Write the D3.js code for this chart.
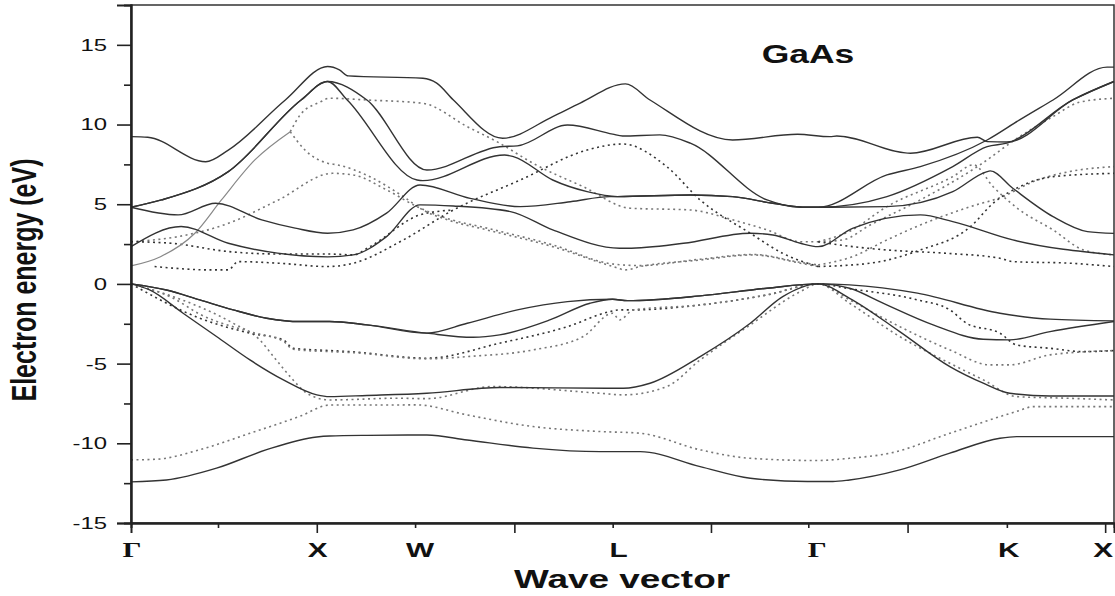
<!DOCTYPE html>
<html>
<head>
<meta charset="utf-8">
<script src="https://cdn.jsdelivr.net/npm/d3@7"></script>
<style>
  body { margin: 0; background: #fff; }
  text { font-family: "Liberation Sans", Arial, sans-serif; fill: #111; }
</style>
</head>
<body>
<div id="chart"></div>
<script>
// k = position along the path in % (0 = first Gamma, 100 = last X), E in eV

// tick marks along the path and their labels
var tickLong = [18.9, 39.0, 59.0, 79.0, 99.1];
var tickShort = [8.85, 28.9, 49.0, 68.9, 89.1];
var pointLabels = ["Γ", "X", "W", "L", "Γ", "K", "X"];
var pointLabelK = [0.1, 19.0, 29.4, 49.6, 69.8, 89.3, 98.9];
var yMajor = [-15, -10, -5, 0, 5, 10, 15];
var yMinor = [-12.5, -7.5, -2.5, 2.5, 7.5, 12.5];

// solid bands
var v1 = [[0,-12.42],[3.6,-12.3],[8.7,-11.56],[13.8,-10.4],[18.9,-9.6],[20.2,-9.54],[24,-9.5],[30.1,-9.48],[34.2,-9.79],[40.9,-10.3],[47.7,-10.52],[51.8,-10.52],[57.9,-11.46],[63,-12.19],[68.8,-12.4],[71.4,-12.4],[73.1,-12.3],[78.2,-11.67],[83.3,-10.62],[88.4,-9.68],[90.1,-9.58],[100,-9.58]];
var v2 = [[0,0],[1.9,-0.38],[5.3,-1.84],[8.7,-3.3],[12.1,-4.77],[15.5,-6.02],[18.9,-6.96],[20.2,-7.07],[24,-7.0],[30.1,-6.86],[37.5,-6.5],[48.7,-6.55],[50.1,-6.55],[52.8,-6.23],[57.9,-4.56],[63,-2.47],[66.3,-0.8],[69.9,0],[73.1,-0.9],[78.2,-2.99],[83.3,-5.19],[86.7,-6.23],[89.4,-6.86],[93.5,-7.03],[100,-7.03]];
var v3 = [[0,0],[3.6,-0.38],[7,-1.0],[10.4,-1.63],[13.8,-2.15],[17.2,-2.36],[20.2,-2.36],[24,-2.57],[30.1,-3.09],[34.8,-3.35],[37.5,-3.2],[42.6,-2.26],[46.7,-1.21],[49,-0.96],[50.5,-1.05],[57.9,-0.75],[64.7,-0.27],[69.9,0],[73.1,-0.27],[76.5,-1.21],[81.6,-2.57],[86.7,-3.47],[89.4,-3.51],[93.5,-2.99],[100,-2.36]];
var v4 = [[0,0],[3.6,-0.38],[7,-1.0],[10.4,-1.63],[13.8,-2.15],[17.2,-2.36],[20.2,-2.36],[24,-2.57],[30.1,-3.09],[34.2,-2.47],[39.3,-1.63],[44.4,-1.11],[49,-0.96],[50.5,-1.05],[57.9,-0.75],[64.7,-0.27],[69.9,0],[73.1,-0.06],[80,-0.58],[88.4,-1.84],[93.5,-2.21],[100,-2.32]];
var c1 = [[0,2.34],[5.1,3.6],[9.9,2.55],[14.9,1.93],[20,1.7],[22.6,1.82],[26,2.97],[29.4,4.96],[32.8,4.89],[38.6,4.54],[42.9,3.39],[49.7,2.24],[50.5,2.24],[56.2,2.55],[63,3.18],[65.3,3.07],[68.1,2.55],[69.9,2.34],[73.4,3.49],[80.3,4.33],[83.6,3.91],[89.7,2.76],[100,1.82]];
var c2 = [[0,4.81],[4.8,4.33],[8.6,5.06],[13.3,4.02],[16.7,3.5],[20,3.18],[22.6,3.39],[26,4.44],[29.4,6.21],[34.5,5.37],[39.6,4.85],[44.7,5.16],[48.7,5.48],[49.5,5.48],[56.9,5.58],[61.2,5.48],[65.3,5.06],[68.8,4.81],[69.9,4.81],[76.9,4.85],[83.6,5.79],[87.1,7.05],[87.4,7.09],[89.7,6.0],[93.8,4.22],[97.3,3.28],[100,3.17]];
var c3 = [[0,4.81],[3.1,5.27],[9.9,7.05],[17.3,11.54],[20,12.7],[22,11.54],[29.1,6.52],[29.7,6.48],[38,8.09],[38.9,7.99],[42.9,6.52],[46.4,5.79],[49.5,5.48],[56.9,5.58],[61.2,5.48],[65.3,5.06],[68.8,4.81],[69.9,4.81],[76.9,5.48],[83.6,7.36],[87.1,8.61],[89.1,8.83],[95.8,11.54],[100,12.7]];
var c4 = [[0,4.81],[3.1,5.27],[9.9,7.05],[17.3,11.54],[20,12.7],[24,11.54],[30.1,7.15],[37.5,8.61],[39.3,8.66],[44.4,9.97],[49,9.4],[50,9.28],[53.8,9.35],[56.9,8.83],[64.7,5.27],[68.1,4.81],[69.9,4.81],[76.9,6.84],[80.3,7.36],[87.1,9.03],[90.4,10.29],[93.8,11.54],[99.3,13.6],[100,13.6]];
var c5 = [[0,9.24],[1.7,9.2],[7.6,7.67],[9.9,8.4],[15.7,11.54],[20,13.64],[21.2,13.43],[22.1,13.05],[29.7,12.9],[31.1,12.6],[32.8,11.54],[37.8,9.14],[42.9,10.5],[45.7,11.35],[50.3,12.55],[52.8,11.54],[61.2,9.03],[67.8,9.39],[71.1,9.24],[71.8,9.28],[79.3,8.2],[86.1,9.2],[87.1,8.93],[89.1,8.9],[95.8,11.54],[100,12.7]];

// dotted bands
var d1a = [[0,1.13],[3,1.71],[6.5,3.18],[9.2,5.27],[12.6,7.78],[16.2,9.55]];
var d1b = [[16.2,9.55],[17.2,10.6],[19.2,11.4],[20.2,11.65],[24,11.54],[29.7,11.33],[34.2,9.87],[37.5,8.83],[40.9,7.57],[46,6.1],[50.8,4.75],[56.9,4.64],[61.2,4.02],[64.7,3.39],[68.1,2.65],[69.9,2.65]];
var d2 = [[16.2,9.55],[17.7,8.4],[20,7.57],[21,7.47],[24.3,6.73],[27.7,5.48],[29.7,4.64],[32.2,4.02],[36.2,3.39],[42.9,2.34],[49,1.1],[50.3,0.88],[51.8,1.09],[57.9,1.5],[63.3,1.82],[68.1,1.3],[69.9,1.09]];
var d3b = [[0,2.65],[4.8,2.97],[9.9,3.8],[15,5.27],[20.5,6.94],[22.6,6.84],[26,5.9],[29.1,4.85],[32.2,4.1],[36.2,3.5],[42.9,2.45],[49,1.25],[51.8,1.15],[57.9,1.55],[63.3,1.85],[68.1,1.35],[69.9,1.19]];
var d4 = [[0,2.65],[4.1,2.55],[9.9,2.03],[15,1.88],[20,1.88],[22.6,1.82],[24.3,2.34],[29.4,4.33],[32.8,4.64]];
var d5 = [[2.4,1.09],[8.1,0.88],[9.9,0.88],[10.9,1.4],[15,1.3],[20,1.09],[22.6,1.3],[27.7,2.76],[32.8,4.64],[39.6,6.52],[46.4,8.4],[50,8.78],[54.5,7.36],[57.9,5.27],[63,3.18],[66.3,1.92],[69.9,1.09]];
var g1 = [[69.9,2.65],[72.4,2.76],[75.2,3.7],[80.3,5.27],[86.1,7.36],[90.4,9.24],[93.8,10.5],[96.5,11.4],[100,11.65]];
var g2 = [[69.9,2.65],[73.1,3.3],[76.9,4.85],[83.6,6.73],[85.7,7.47],[87.7,6.1],[90.4,4.64],[93.8,3.39],[96.9,2.13],[100,1.82]];
var g3 = [[69.9,1.19],[73.4,1.71],[76.9,2.76],[80.3,3.7],[85.4,4.85],[88.7,5.48],[91.8,6.42],[95.5,7.05],[100,7.36]];
var g4 = [[69.9,1.09],[75.2,1.3],[80.3,2.13],[85.4,3.59],[87.7,5.06],[90.4,6.1],[93.8,6.73],[100,6.94]];
var g5 = [[69.9,2.65],[73.4,2.34],[76.9,2.13],[83,1.92],[88.4,1.61],[89.7,1.4],[95.5,1.3],[100,1.09]];
var dv1 = [[0,-11.04],[2.6,-11.0],[7,-10.4],[12.1,-9.37],[17.2,-8.3],[20.2,-7.6],[24,-7.6],[29.1,-7.59],[34.2,-8.22],[40.9,-8.95],[47.7,-9.26],[51.8,-9.37],[57.9,-10.41],[63,-10.94],[69.8,-11.08],[73.1,-10.94],[77.2,-10.62],[83.3,-9.37],[90.1,-8.0],[91.8,-7.7],[100,-7.7]];
var dv2 = [[0,0],[4.3,-0.8],[10.4,-2.47],[13.1,-3.51],[14.5,-4.56],[16.2,-5.82],[17.9,-6.86],[20.2,-7.28],[27.1,-7.17],[30.1,-7.2],[36.8,-6.44],[47.7,-6.86],[50.1,-6.96],[54.5,-6.44],[57.9,-4.77],[63,-2.57],[68.1,-0.48],[69.9,0],[73.1,-1.21],[78.2,-3.3],[83.3,-4.98],[86.7,-6.02],[90.1,-7.07],[95.2,-7.17],[100,-7.28]];
var dv3 = [[0,0],[7,-2.15],[12.1,-3.09],[15.5,-3.51],[16.5,-4.04],[20.2,-4.18],[22.3,-4.25],[30.1,-4.66],[37.5,-3.72],[44.4,-2.68],[48.7,-1.74],[49.7,-1.63],[51.1,-1.63],[57.9,-1.32],[64.7,-0.69],[69.9,0],[73.1,-0.3],[80,-1.0],[83.3,-1.63],[85,-2.47],[88.4,-3.09],[90.1,-3.83],[93.5,-4.04],[96.9,-4.25],[100,-4.18]];
var dv4 = [[0,0],[4.3,-0.9],[7,-1.9],[12.1,-3.0],[15.5,-3.6],[16.5,-4.1],[20.2,-4.25],[22.3,-4.3],[30.1,-4.7],[34.2,-4.56],[40.9,-4.14],[46,-3.3],[49,-1.84],[49.7,-2.26],[51.1,-1.63],[57.9,-1.32],[64.7,-0.69],[69.9,0],[73.1,-1.0],[78.2,-2.68],[83.3,-4.14],[87.4,-5.08],[89.4,-5.08],[93.5,-4.45],[100,-4.18]];

var width = 1115, height = 596;
var SX = 1.42; // the figure's lettering is stretched horizontally

var svg = d3.select("#chart").append("svg")
  .attr("width", width)
  .attr("height", height);

var x = d3.scaleLinear().domain([0, 100]).range([131, 1114]);
var y = d3.scaleLinear().domain([-15, 17.5]).range([523, 5]);

var line = d3.line()
  .x(function(d) { return x(d[0]); })
  .y(function(d) { return y(d[1]); })
  .curve(d3.curveMonotoneX);

var bands = [
  { d: dv1, s: "grey" }, { d: dv2, s: "grey" }, { d: dv3, s: "dark" }, { d: dv4, s: "grey" },
  { d: d1b, s: "grey" }, { d: d2, s: "grey" }, { d: d3b, s: "grey" }, { d: d4, s: "dark" }, { d: d5, s: "dark" },
  { d: g1, s: "grey" }, { d: g2, s: "grey" }, { d: g3, s: "grey" }, { d: g4, s: "dark" }, { d: g5, s: "dark" },
  { d: d1a, s: "light" },
  { d: v1, s: "solid" }, { d: v2, s: "solid" }, { d: v3, s: "solid" }, { d: v4, s: "solid" },
  { d: c1, s: "solid" }, { d: c2, s: "solid" }, { d: c3, s: "solid" }, { d: c4, s: "solid" }, { d: c5, s: "solid" }
];

var styles = {
  solid: { stroke: "#333", width: 1.4, dash: null },
  light: { stroke: "#888", width: 1.2, dash: null },
  grey: { stroke: "#777", width: 1.6, dash: "2,3.5" },
  dark: { stroke: "#333", width: 1.6, dash: "2,3.5" }
};

var g = svg.append("g");
g.selectAll("path.band")
  .data(bands)
  .enter()
  .append("path")
  .attr("class", "band")
  .attr("fill", "none")
  .attr("stroke", function(b) { return styles[b.s].stroke; })
  .attr("stroke-width", function(b) { return styles[b.s].width; })
  .attr("stroke-dasharray", function(b) { return styles[b.s].dash; })
  .attr("d", function(b) { return line(b.d); });

// frame
svg.append("rect")
  .attr("x", x(0)).attr("y", y(17.5))
  .attr("width", x(100) - x(0)).attr("height", y(-15) - y(17.5))
  .attr("fill", "none").attr("stroke", "#333").attr("stroke-width", 1.5);

// y axis
var yAxisMajor = svg.append("g").attr("transform", "translate(" + x(0) + ",0)")
  .call(d3.axisLeft(y).tickValues(yMajor).tickSize(14).tickFormat(""));
var yAxisMinor = svg.append("g").attr("transform", "translate(" + x(0) + ",0)")
  .call(d3.axisLeft(y).tickValues(yMinor).tickSize(7).tickFormat(""));
[yAxisMajor, yAxisMinor].forEach(function(a) {
  a.select(".domain").attr("stroke", "#222").attr("stroke-width", 2);
  a.selectAll(".tick line").attr("stroke", "#222").attr("stroke-width", 1.6);
});

svg.selectAll("text.ylab")
  .data(yMajor)
  .enter()
  .append("text")
  .attr("class", "ylab")
  .attr("transform", function(v) { return "translate(107," + y(v) + ") scale(1.45,1)"; })
  .attr("text-anchor", "end")
  .attr("dy", "0.36em")
  .style("font-size", "16.5px")
  .text(function(v) { return v; });

// x axis
var xAxisLong = svg.append("g").attr("transform", "translate(0," + y(-15) + ")")
  .call(d3.axisBottom(x).tickValues(tickLong).tickSize(10).tickFormat(""));
var xAxisShort = svg.append("g").attr("transform", "translate(0," + y(-15) + ")")
  .call(d3.axisBottom(x).tickValues(tickShort).tickSize(5).tickFormat(""));
[xAxisLong, xAxisShort].forEach(function(a) {
  a.select(".domain").attr("stroke", "#222").attr("stroke-width", 2);
  a.selectAll(".tick line").attr("stroke", "#222").attr("stroke-width", 1.6);
});

svg.selectAll("text.xlab")
  .data(pointLabels)
  .enter()
  .append("text")
  .attr("class", "xlab")
  .attr("transform", function(t, i) { return "translate(" + x(pointLabelK[i]) + ",557) scale(" + SX + ",1)"; })
  .attr("text-anchor", "middle")
  .style("font-size", "21px")
  .style("font-weight", "bold")
  .style("font-family", function(t) { return t === "Γ" ? "'Liberation Serif', serif" : null; })
  .text(function(t) { return t; });

// titles
svg.append("text")
  .attr("transform", "translate(622,588) scale(" + SX + ",1)")
  .attr("text-anchor", "middle")
  .style("font-size", "26px")
  .style("font-weight", "bold")
  .text("Wave vector");

svg.append("text")
  .attr("transform", "translate(36,280) scale(" + SX + ",1) rotate(-90)")
  .attr("text-anchor", "middle")
  .style("font-size", "25px")
  .style("font-weight", "bold")
  .text("Electron energy (eV)");

svg.append("text")
  .attr("transform", "translate(808,63) scale(" + SX + ",1)")
  .attr("text-anchor", "middle")
  .style("font-size", "25px")
  .style("font-weight", "bold")
  .text("GaAs");
</script>
</body>
</html>
